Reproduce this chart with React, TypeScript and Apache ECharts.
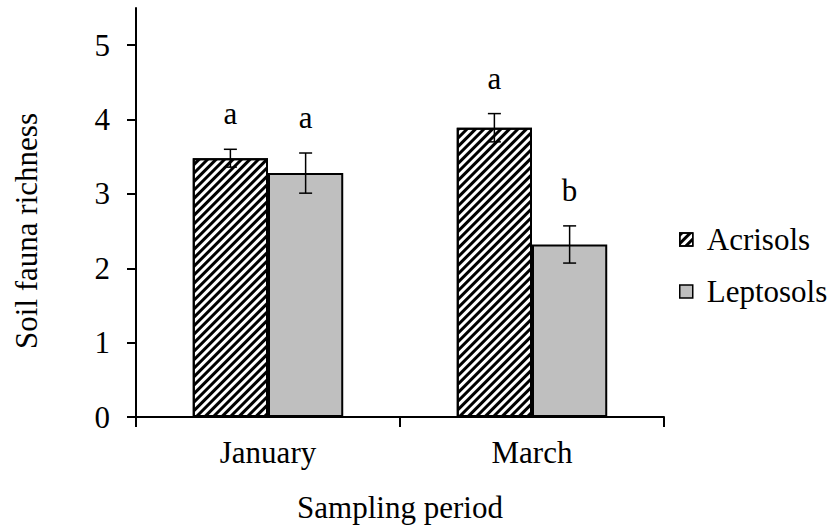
import React, { useEffect, useRef } from 'react';
import * as echarts from 'echarts';

// Soil fauna richness by sampling period and soil type (mean ± SE)
const categories = ['January', 'March'];
const acrisols = [3.48, 3.89];
const leptosols = [3.28, 2.32];
const acrisolsErr = [0.12, 0.19];
const leptosolsErr = [0.27, 0.25];
const acrisolsLetters = ['a', 'a'];
const leptosolsLetters = ['a', 'b'];
const yTicks = [0, 1, 2, 3, 4, 5];

const FONT_FAMILY = '"Liberation Serif", "Times New Roman", serif';
const FONT_SIZE = 31;
const CATEGORY_GAP = 0.43;

// Error bars with significance letters, drawn over one bar of each pair.
function errorBars(
  id: string,
  values: number[],
  errs: number[],
  letters: string[],
  side: number
) {
  return {
    type: 'custom',
    id,
    silent: true,
    z: 10,
    encode: { x: 0, y: 1 },
    data: values.map((v, i) => [i, v, errs[i]]),
    renderItem: (params: any, api: any) => {
      const idx = api.value(0);
      const v = api.value(1);
      const e = api.value(2);
      const band = api.size([1, 0])[0];
      const barW = (band * (1 - CATEGORY_GAP)) / 2;
      const center = api.coord([idx, v]);
      const x = center[0] + (side * barW) / 2;
      const top = api.coord([idx, v + e])[1];
      const bot = api.coord([idx, v - e])[1];
      const cap = 6.5;
      const style = { stroke: '#000', lineWidth: 1.5 };
      return {
        type: 'group',
        children: [
          { type: 'line', shape: { x1: x, y1: top, x2: x, y2: bot }, style },
          { type: 'line', shape: { x1: x - cap, y1: top, x2: x + cap, y2: top }, style },
          { type: 'line', shape: { x1: x - cap, y1: bot, x2: x + cap, y2: bot }, style },
          {
            type: 'text',
            x,
            y: top - 20,
            style: {
              text: letters[params.dataIndex],
              fill: '#000',
              font: `${FONT_SIZE}px ${FONT_FAMILY}`,
              textAlign: 'center',
              textVerticalAlign: 'bottom',
            },
          },
        ],
      };
    },
  };
}

export default function App() {
  const ref = useRef<HTMLDivElement>(null);

  useEffect(() => {
    if (!ref.current) return;
    const chart = echarts.init(ref.current, null, { renderer: 'svg' });
    const textBase = { color: '#000', fontFamily: FONT_FAMILY, fontSize: FONT_SIZE };

    chart.setOption({
      animation: false,
      backgroundColor: '#fff',
      grid: { left: 136, right: 163, top: 8, bottom: 109, containLabel: false },
      legend: {
        data: ['Acrisols', 'Leptosols'],
        orient: 'vertical',
        left: 679,
        top: 224,
        padding: 0,
        icon: 'rect',
        itemWidth: 13,
        itemHeight: 13,
        itemGap: 21,
        selectedMode: false,
        itemStyle: { borderColor: '#000', borderWidth: 1.5 },
        textStyle: { ...textBase, lineHeight: 31, padding: [0, 0, 0, 9] },
      },
      xAxis: {
        type: 'category',
        data: categories,
        name: 'Sampling period',
        nameLocation: 'middle',
        nameGap: 75,
        nameTextStyle: textBase,
        axisLine: { lineStyle: { color: '#000', width: 2 } },
        axisTick: { show: true, inside: false, length: 10, lineStyle: { color: '#000', width: 2 } },
        axisLabel: { ...textBase, margin: 20 },
      },
      yAxis: {
        type: 'value',
        min: 0,
        max: 5.5,
        interval: 1,
        splitLine: { show: false },
        axisLine: { show: true, lineStyle: { color: '#000', width: 2 } },
        axisTick: {
          show: true,
          inside: false,
          length: 9,
          customValues: yTicks,
          lineStyle: { color: '#000', width: 2 },
        },
        axisLabel: { ...textBase, margin: 26, customValues: yTicks },
      },
      graphic: [
        {
          type: 'text',
          x: 26,
          y: 231,
          rotation: Math.PI / 2,
          style: {
            text: 'Soil fauna richness',
            fill: '#000',
            font: `${FONT_SIZE}px ${FONT_FAMILY}`,
            textAlign: 'center',
            textVerticalAlign: 'middle',
          },
        },
      ],
      series: [
        {
          name: 'Acrisols',
          type: 'bar',
          data: acrisols,
          barGap: '0%',
          barCategoryGap: `${CATEGORY_GAP * 100}%`,
          itemStyle: {
            color: '#ffffff',
            borderColor: '#000',
            borderWidth: 2,
            decal: {
              symbol: 'rect',
              symbolSize: 1,
              color: '#000',
              dashArrayX: [1, 0],
              dashArrayY: [2.4, 2.6],
              rotation: -Math.PI / 4,
            },
          },
        },
        {
          name: 'Leptosols',
          type: 'bar',
          data: leptosols,
          barGap: '0%',
          barCategoryGap: `${CATEGORY_GAP * 100}%`,
          itemStyle: { color: '#bfbfbf', borderColor: '#000', borderWidth: 2 },
        },
        errorBars('acrisols-se', acrisols, acrisolsErr, acrisolsLetters, -1),
        errorBars('leptosols-se', leptosols, leptosolsErr, leptosolsLetters, 1),
      ],
    });

    return () => chart.dispose();
  }, []);

  return (
    <div
      ref={ref}
      style={{ position: 'absolute', left: 0, top: 0, width: 827, height: 528 }}
    />
  );
}
